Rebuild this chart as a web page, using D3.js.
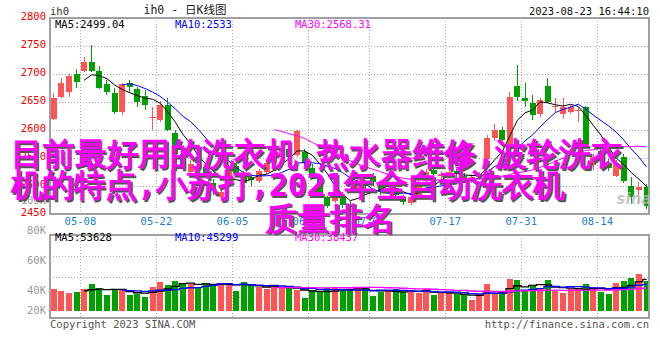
<!DOCTYPE html>
<html><head><meta charset="utf-8">
<script src="https://cdn.jsdelivr.net/npm/d3@7"></script>
<style>
body{margin:0;background:#fff;}
svg{display:block;}
text{font-family:"DejaVu Sans Mono","Liberation Mono",monospace;}
</style></head><body>
<svg id="chart" width="660" height="360"></svg>
<script>
// ---------------- data ----------------
const dates = ["04-27","04-28","05-04","05-05","05-08","05-09","05-10","05-11","05-12","05-15","05-16","05-17","05-18","05-19","05-22","05-23","05-24","05-25","05-26","05-29","05-30","05-31","06-01","06-02","06-05","06-06","06-07","06-08","06-09","06-12","06-13","06-14","06-15","06-16","06-19","06-20","06-21","06-26","06-27","06-28","06-29","06-30","07-03","07-04","07-05","07-06","07-07","07-10","07-11","07-12","07-13","07-14","07-17","07-18","07-19","07-20","07-21","07-24","07-25","07-26","07-27","07-28","07-31","08-01","08-02","08-03","08-04","08-07","08-08","08-09","08-10","08-11","08-14","08-15","08-16","08-17","08-18","08-21","08-22"];
const openP  = [2620,2659,2668,2699,2705,2721,2705,2681,2665,2631,2683,2673,2661,2621,2617,2645,2594,2557,2525,2552,2534,2505,2479,2500,2535,2522,2515,2508,2524,2540,2552,2566,2555,2560,2532,2514,2479,2473,2480,2465,2490,2505,2518,2500,2488,2495,2480,2468,2480,2508,2528,2518,2522,2526,2518,2508,2516,2548,2585,2599,2565,2678,2657,2647,2629,2678,2640,2629,2632,2634,2640,2536,2562,2540,2518,2551,2500,2492,2497];
const highP  = [2666,2692,2699,2708,2731,2751,2714,2689,2674,2683,2689,2676,2671,2641,2652,2656,2599,2562,2545,2556,2540,2512,2495,2537,2542,2526,2520,2530,2545,2562,2570,2572,2600,2565,2538,2518,2482,2490,2484,2472,2512,2510,2522,2505,2500,2498,2484,2485,2510,2530,2532,2526,2535,2530,2522,2520,2525,2590,2610,2605,2668,2716,2683,2662,2656,2692,2656,2657,2645,2641,2642,2557,2566,2548,2545,2556,2515,2506,2503];
const lowP   = [2617,2657,2658,2674,2704,2703,2672,2663,2629,2626,2668,2641,2635,2599,2614,2598,2551,2530,2518,2535,2516,2484,2472,2496,2515,2498,2500,2505,2520,2536,2548,2548,2552,2535,2512,2485,2460,2468,2460,2452,2486,2492,2500,2484,2485,2478,2466,2465,2478,2505,2515,2510,2518,2512,2505,2504,2510,2545,2580,2575,2560,2651,2641,2618,2623,2647,2632,2620,2628,2614,2567,2527,2548,2526,2515,2505,2467,2467,2458];
const closeP = [2656,2683,2696,2686,2722,2705,2675,2668,2631,2681,2676,2649,2645,2622,2645,2599,2556,2535,2538,2541,2521,2492,2488,2532,2520,2505,2510,2526,2540,2556,2565,2552,2597,2540,2518,2488,2464,2486,2466,2461,2508,2499,2506,2490,2495,2483,2470,2480,2505,2525,2520,2520,2525,2520,2510,2515,2520,2585,2600,2581,2659,2659,2652,2626,2653,2650,2642,2641,2641,2635,2569,2551,2555,2531,2541,2509,2479,2497,2464];
const volume = [37200,33800,31000,32700,37200,45700,39400,27000,35000,37200,27000,28800,24200,40600,49000,44000,50800,47900,45200,38400,47900,46200,47900,46200,33800,49600,42300,41100,36700,42300,39400,39400,35500,21500,35500,34300,38400,39400,35000,35500,39400,38400,25900,32700,33800,36700,32700,32700,31000,37200,27000,29900,29900,28200,28200,18600,28200,45700,28200,33800,54100,52500,35500,42300,39400,52500,33800,31000,36700,36700,45700,40100,32700,28800,47900,50800,56300,62600,50800];
const priceTicks = [2450,2500,2550,2600,2650,2700,2750,2800];
const volTickValues = [20000,40000,60000,80000,100000];
const volTickLabels = ["20K","40K","60K","80K","100K"];
const dateTicks = ["05-08","05-22","06-05","06-19","07-03","07-17","07-31","08-14"];
const priceLegend = ["MA5:2499.04","MA10:2533","MA30:2568.31"];
const volLegend = ["MA5:53628","MA10:45299","MA30:38437"];
const maPeriods = [5,10,30];
const maColors = ["#000000","#0000ff","#ff00ff"];
const titleText = "ih0 - 日K线图";
const symbolText = "ih0";
const timeText = "2023-08-23 16:44:10";
const copyText = "Copyright 2023 SINA.COM";
const urlText = "http://finance.sina.com.cn";
const overlayLines = ["目前最好用的洗衣机,热水器维修,波轮洗衣","机的特点,小苏打,2021年全自动洗衣机","质量排名"];

// ---------------- layout ----------------
const L = 50, R = 650.4;
const pTop = 18, pBot = 213.5;
const vTop = 235, vBot = 318, vBase = 311;
const UP = "#ff5555", DOWN = "#00a000";
const svg = d3.select("#chart");
const N = dates.length;
const x = d3.scaleBand().domain(d3.range(N)).range([L, R]).padding(0);
const bw = 6, off = (x.bandwidth() - bw) / 2;
const cx = i => x(i) + off + bw / 2;
const y = d3.scaleLinear().domain([2450, 2800]).range([pBot, pTop]);
const yv = d3.scaleLinear().domain([0, 129000]).range([vBase, vTop]);
const yvLab = d3.scaleLinear().domain(volTickValues).range([310.7, 290.7, 260.7, 230.7, 200]);

function ma(arr, n) { return arr.map((d, i) => i < n - 1 ? null : d3.mean(arr.slice(i - n + 1, i + 1))); }

// grids
const gridStyle = g => g.attr("stroke", "#aaa").attr("stroke-dasharray", "1,2").attr("stroke-width", 1);
const tickIdx = dateTicks.map(d => dates.indexOf(d));
const gGrid = svg.append("g").attr("shape-rendering", "crispEdges");
gGrid.selectAll(".hp").data(priceTicks.slice(1, -1)).join("line")
  .attr("x1", L).attr("x2", R).attr("y1", d => Math.round(y(d)) + 0.5).attr("y2", d => Math.round(y(d)) + 0.5).call(gridStyle);
gGrid.selectAll(".vp").data(tickIdx).join("line")
  .attr("x1", d => Math.round(x(d)) + 0.5).attr("x2", d => Math.round(x(d)) + 0.5).attr("y1", pTop).attr("y2", pBot).call(gridStyle);
gGrid.selectAll(".vv").data(tickIdx).join("line")
  .attr("x1", d => Math.round(x(d)) + 0.5).attr("x2", d => Math.round(x(d)) + 0.5).attr("y1", vTop).attr("y2", vBot).call(gridStyle);
gGrid.selectAll(".hv").data([1, 2, 3]).join("line")
  .attr("x1", L).attr("x2", R)
  .attr("y1", k => Math.round(vTop + k * (vBot - vTop) / 4) + 0.5).attr("y2", k => Math.round(vTop + k * (vBot - vTop) / 4) + 0.5).call(gridStyle);

// candles
const gC = svg.append("g").attr("shape-rendering", "crispEdges");
const col = i => closeP[i] >= openP[i] ? UP : DOWN;
gC.selectAll(".wick").data(d3.range(N)).join("line")
  .attr("x1", i => Math.floor(cx(i)) + 0.5).attr("x2", i => Math.floor(cx(i)) + 0.5)
  .attr("y1", i => y(highP[i])).attr("y2", i => y(lowP[i])).attr("stroke", col);
gC.selectAll(".body").data(d3.range(N)).join("rect")
  .attr("x", i => Math.round(x(i) + off)).attr("width", bw)
  .attr("y", i => y(Math.max(openP[i], closeP[i])))
  .attr("height", i => Math.max(1, Math.abs(y(openP[i]) - y(closeP[i]))))
  .attr("fill", col);

// price MA lines
const lineP = d3.line().defined(d => d[1] != null).x(d => cx(d[0])).y(d => y(d[1]));
maPeriods.forEach((n, k) => {
  const m = ma(closeP, n).map((v, i) => [i, v]);
  svg.append("path").attr("d", lineP(m)).attr("fill", "none").attr("stroke", maColors[k]).attr("stroke-width", 1);
});

// volume bars
const gV = svg.append("g").attr("shape-rendering", "crispEdges");
gV.selectAll("rect").data(d3.range(N)).join("rect")
  .attr("x", i => Math.round(x(i) + off)).attr("width", bw)
  .attr("y", i => yv(volume[i])).attr("height", i => yv(0) - yv(volume[i])).attr("fill", col);
const lineV = d3.line().defined(d => d[1] != null).x(d => cx(d[0])).y(d => yv(d[1])).curve(d3.curveStep);
maPeriods.forEach((n, k) => {
  const m = ma(volume, n).map((v, i) => [i, v]);
  svg.append("path").attr("d", lineV(m)).attr("fill", "none").attr("stroke", maColors[k]).attr("stroke-width", 1.3);
});

// borders
const gB = svg.append("g").attr("fill", "none").attr("stroke", "#a0a0a0").attr("stroke-width", 2).attr("shape-rendering", "crispEdges");
gB.append("rect").attr("x", L).attr("y", pTop).attr("width", R - L - 1).attr("height", pBot - pTop);
gB.append("rect").attr("x", L).attr("y", vTop).attr("width", R - L - 1).attr("height", vBot - vTop);

// axis labels
const fs = 10.5;
svg.append("g").selectAll("text").data(priceTicks).join("text")
  .attr("x", 46).attr("y", d => y(d) + 2).attr("text-anchor", "end")
  .attr("font-size", fs).attr("fill", "#ee0000").text(d => d);
svg.append("g").selectAll("text").data(volTickValues).join("text")
  .attr("x", 46).attr("y", d => yvLab(d) + 3.5).attr("text-anchor", "end")
  .attr("font-size", fs).attr("fill", "#999").text((d, i) => volTickLabels[i]);
svg.append("g").selectAll("text").data(dateTicks).join("text")
  .attr("x", d => x(dates.indexOf(d))).attr("y", 225).attr("text-anchor", "middle")
  .attr("font-size", fs).attr("fill", "#1b7fcf").text(d => d);

// legends
const legX = [55, 175, 295];
priceLegend.forEach((t, k) => svg.append("text").attr("x", legX[k]).attr("y", 27.5).attr("font-size", fs).attr("fill", maColors[k]).text(t));
volLegend.forEach((t, k) => svg.append("text").attr("x", legX[k]).attr("y", 241).attr("font-size", fs).attr("fill", maColors[k]).text(t));

// header / footer
svg.append("text").attr("x", 50).attr("y", 15).attr("font-size", fs).attr("fill", "#333").text(symbolText);
svg.append("text").attr("x", 185).attr("y", 14).attr("text-anchor", "middle").attr("font-size", 11.5).attr("fill", "#222")
  .style("font-family", "'DejaVu Sans Mono','Noto Sans CJK SC',monospace").text(titleText);
svg.append("text").attr("x", 649).attr("y", 15).attr("text-anchor", "end").attr("font-size", fs).attr("fill", "#111").text(timeText);
svg.append("text").attr("x", 50).attr("y", 328).attr("font-size", fs).attr("fill", "#555").text(copyText);
svg.append("text").attr("x", 649).attr("y", 328).attr("text-anchor", "end").attr("font-size", fs).attr("fill", "#555").text(urlText);
svg.append("text").attr("x", 634).attr("y", 204).attr("text-anchor", "middle").attr("font-size", 15)
  .attr("font-style", "italic").attr("font-weight", "bold").attr("fill", "#bbb").attr("opacity", 0.8)
  .style("font-family", "'DejaVu Sans',sans-serif").text("sina");

// overlay title text
const ov = svg.append("g").style("font-family", "'Noto Sans CJK SC',sans-serif").attr("font-size", 32).attr("font-weight", 700);
const ovPos = [[11, 165, "start", 612], [11, 196, "start", 554], [330, 229.5, "middle", 130]];
overlayLines.forEach((t, k) => {
  [[1.5, "#555"], [0, "#ff00ff"]].forEach(([d, c]) => {
    ov.append("text").attr("x", ovPos[k][0] + d).attr("y", ovPos[k][1] + d).attr("text-anchor", ovPos[k][2])
      .attr("textLength", ovPos[k][3]).attr("lengthAdjust", "spacing").attr("fill", c).text(t);
  });
});
</script>
</body></html>
